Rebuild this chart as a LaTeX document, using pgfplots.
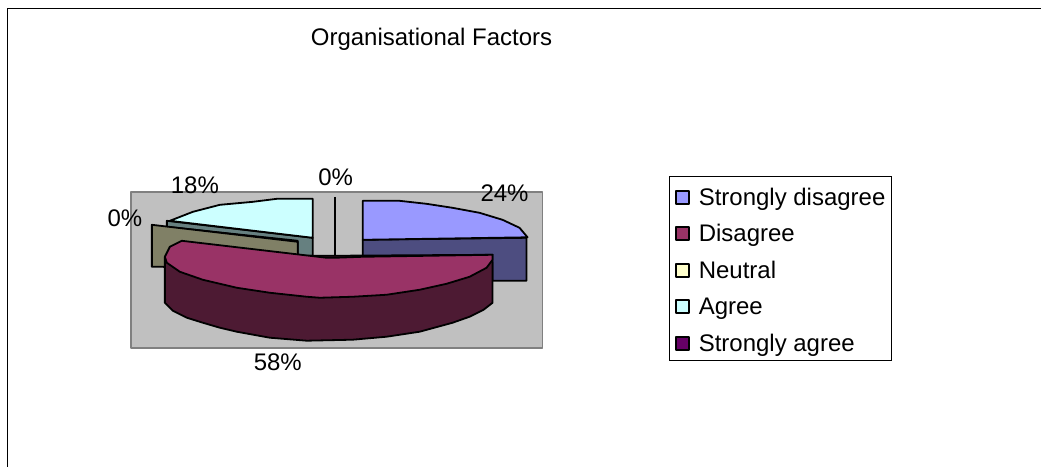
\documentclass[border=0pt]{standalone}
\usepackage{pgfplots}
\pgfplotsset{compat=1.18}
\usepackage{fontspec}
\setmainfont{Liberation Sans}
\definecolor{wall}{HTML}{C0C0C0}
\definecolor{wallline}{HTML}{808080}
\definecolor{sdis}{HTML}{9999FF}
\definecolor{sdisside}{HTML}{4D4D80}
\definecolor{dis}{HTML}{993366}
\definecolor{disside}{HTML}{4D1A33}
\definecolor{neu}{HTML}{FFFFCC}
\definecolor{neuside}{HTML}{808066}
\definecolor{agr}{HTML}{CCFFFF}
\definecolor{agrside}{HTML}{668080}
\definecolor{sagr}{HTML}{660066}
\begin{document}
\begin{tikzpicture}
\begin{axis}[
  width=1042pt, height=467pt, scale only axis,
  xmin=0, xmax=1042, ymin=0, ymax=467,
  y dir=reverse,
  hide axis,
  clip=false,
  legend cell align=left,
  legend style={at={(axis cs:670,176)}, anchor=north west, draw=black, line width=1pt,
    font=\fontsize{24}{24}\selectfont, inner xsep=5pt, inner ysep=7pt,
    row sep=12.5pt,
    nodes={inner sep=1pt, anchor=base west, text height=21pt, text depth=1pt}},
  legend image code/.code={
    \draw[#1, line width=1.8pt] (4.5pt,1.5pt) rectangle (17.5pt,14.5pt);
    \path (26pt,0pt);
  },
  every axis plot/.append style={forget plot, line join=round},
]
% keeps the full picture area in the bounding box
\addplot[draw=none] coordinates {(0,0) (1042,467)};
% outer frame
\addplot[black, line width=1.8pt] coordinates {(7.5,467) (7.5,8.5) (1042,8.5)};
% back wall
\addplot[fill=wall, draw=wallline, line width=1.6pt] coordinates {(131,192) (543,192) (543,348) (131,348)} -- cycle;
% Agree slice
\addplot[fill=agrside, draw=black, line width=1.8pt] coordinates {(167,221) (167,227) (298,241) (298,256) (313,256) (313,238)} -- cycle;
\addplot[fill=agr, draw=black, line width=1.8pt] coordinates {(313,238) (313,199) (277,199) (253,202) (220,205) (193,212) (170,221)} -- cycle;
% Neutral, 0%
\addplot[fill=neuside, draw=black, line width=1.8pt] coordinates {(152,225) (298,242) (298,268) (152,267)} -- cycle;
% Strongly agree, 0%
\addplot[black, line width=2.2pt] coordinates {(335,197) (335,258)};
% Strongly disagree slice
\addplot[fill=sdisside, draw=black, line width=1.8pt] coordinates {(363,240) (527,238) (527,281) (493,281) (493,262) (363,262)} -- cycle;
\addplot[fill=sdis, draw=black, line width=1.8pt] coordinates {(363,240) (363,201) (400,201) (427,204) (453,208) (480,213) (503,220) (520,228) (528,237.5)} -- cycle;
% Disagree slice
\addplot[fill=disside, draw=black, line width=1.8pt] coordinates {(165,257) (165,303) (173,311) (187,318) (203,323) (220,328) (237,332) (270,338) (307,341) (353,340) (387,337) (420,332) (453,323) (470,317) (484,310) (493,303) (493,255)} -- cycle;
\addplot[fill=dis, draw=black, line width=1.8pt] coordinates {(182,241) (327,258) (335,258) (363,257) (493,255) (493,260) (487,268) (470,277) (447,284) (420,290) (387,295) (353,297) (320,298) (307,297) (270,293) (237,288) (203,280) (180,272) (167,263) (165,257) (170,247)} -- cycle;
% legend
\addlegendimage{fill=sdis, draw=black}
\addlegendentry{Strongly disagree}
\addlegendimage{fill=dis, draw=black}
\addlegendentry{Disagree}
\addlegendimage{fill=neu, draw=black}
\addlegendentry{Neutral}
\addlegendimage{fill=agr, draw=black}
\addlegendentry{Agree}
\addlegendimage{fill=sagr, draw=black}
\addlegendentry{Strongly agree}
% text
\node[anchor=west, inner sep=0pt, font=\fontsize{24}{24}\selectfont] at (axis cs:311,39) {Organisational Factors};
\node[font=\fontsize{24}{24}\selectfont, inner sep=0pt] at (axis cs:195,185) {18\%};
\node[font=\fontsize{24}{24}\selectfont, inner sep=0pt] at (axis cs:336,177) {0\%};
\node[font=\fontsize{24}{24}\selectfont, inner sep=0pt] at (axis cs:505,193) {24\%};
\node[font=\fontsize{24}{24}\selectfont, inner sep=0pt] at (axis cs:125,218) {0\%};
\node[font=\fontsize{24}{24}\selectfont, inner sep=0pt] at (axis cs:278,363) {58\%};
\end{axis}
\end{tikzpicture}
\end{document}
